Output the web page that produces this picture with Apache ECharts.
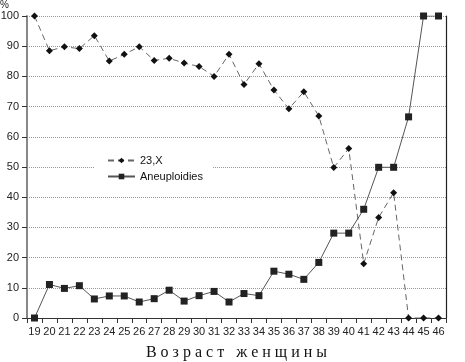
<!DOCTYPE html>
<html><head><meta charset="utf-8">
<script src="https://cdn.jsdelivr.net/npm/echarts@6/dist/echarts.min.js"></script>
<style>html,body{margin:0;padding:0;background:#fff}#c{width:465px;height:362px}</style>
</head><body><div id="c"></div>
<script>
var ages = ['19','20','21','22','23','24','25','26','27','28','29','30','31','32','33','34','35','36','37','38','39','40','41','42','43','44','45','46'];
var monosomyX = [100,88.5,89.8,89.2,93.5,85.1,87.3,89.8,85.3,86,84.4,83.3,80,87.3,77.3,84.2,75.5,69.3,74.9,66.9,49.8,56.1,18,33.3,41.5,0,0,0];
var aneuploidies = [0,11.1,9.8,10.7,6.3,7.3,7.3,5.3,6.4,9.2,5.6,7.4,8.8,5.3,8.1,7.4,15.5,14.5,12.8,18.4,28.1,28.1,36,49.9,49.9,66.6,100,100];
var seriesNames = ['23,X','Aneuploidies'];
var xTitle = 'В о з р а с т   ж е н щ и н ы';

var chart = echarts.init(document.getElementById('c'));
chart.setOption({
  animation:false,
  backgroundColor:'#fff',
  textStyle:{fontFamily:'Liberation Sans, Arial, sans-serif'},
  grid:{left:27,right:19,top:16,bottom:44,outerBoundsMode:'none',containLabel:false},
  legend:{
    orient:'vertical', left:95, top:151,
    backgroundColor:'#fff',
    padding:[4,9,4,12],
    itemWidth:27, itemHeight:7, itemGap:5,
    textStyle:{fontSize:11,color:'#111',fontFamily:'Liberation Sans, Arial, sans-serif'},
    data:seriesNames
  },
  xAxis:[{
    type:'category', data:ages, boundaryGap:true,
    axisLine:{lineStyle:{color:'#333',width:1}},
    axisTick:{show:true,length:5,lineStyle:{color:'#333'}},
    axisLabel:{fontSize:11,color:'#222',margin:8,interval:0},
    name:xTitle, nameLocation:'middle', nameGap:27,
    nameTextStyle:{fontFamily:'Liberation Serif, Times New Roman, serif',fontSize:16,color:'#111'}
  },{
    type:'category', data:ages, position:'top',
    axisLine:{lineStyle:{color:'#333',width:1.2}},
    axisTick:{show:false}, axisLabel:{show:false}
  }],
  yAxis:[{
    type:'value', min:0, max:100, interval:10,
    name:'%', nameLocation:'end', nameGap:4,
    nameTextStyle:{fontSize:10,color:'#222',align:'right',padding:[0,18,0,0]},
    axisLine:{show:true,lineStyle:{color:'#888',width:2}},
    axisTick:{show:true,length:5,lineStyle:{color:'#333'}},
    axisLabel:{fontSize:11,color:'#222',margin:8},
    splitLine:{show:true,lineStyle:{type:'dotted',color:'#999',width:1}}
  },{
    type:'value', min:0, max:100, interval:10, position:'right',
    axisLine:{show:true,lineStyle:{color:'#222',width:1.2}},
    axisTick:{show:false}, axisLabel:{show:false}, splitLine:{show:false}
  }],
  series:[{
    name:seriesNames[0], type:'line', data:monosomyX,
    symbol:'diamond', symbolSize:7,
    itemStyle:{color:'#111'},
    lineStyle:{color:'#666',width:1,type:[6,4]}
  },{
    name:seriesNames[1], type:'line', data:aneuploidies,
    symbol:'rect', symbolSize:7,
    itemStyle:{color:'#222'},
    lineStyle:{color:'#555',width:1,type:'solid'}
  }]
});
</script></body></html>
